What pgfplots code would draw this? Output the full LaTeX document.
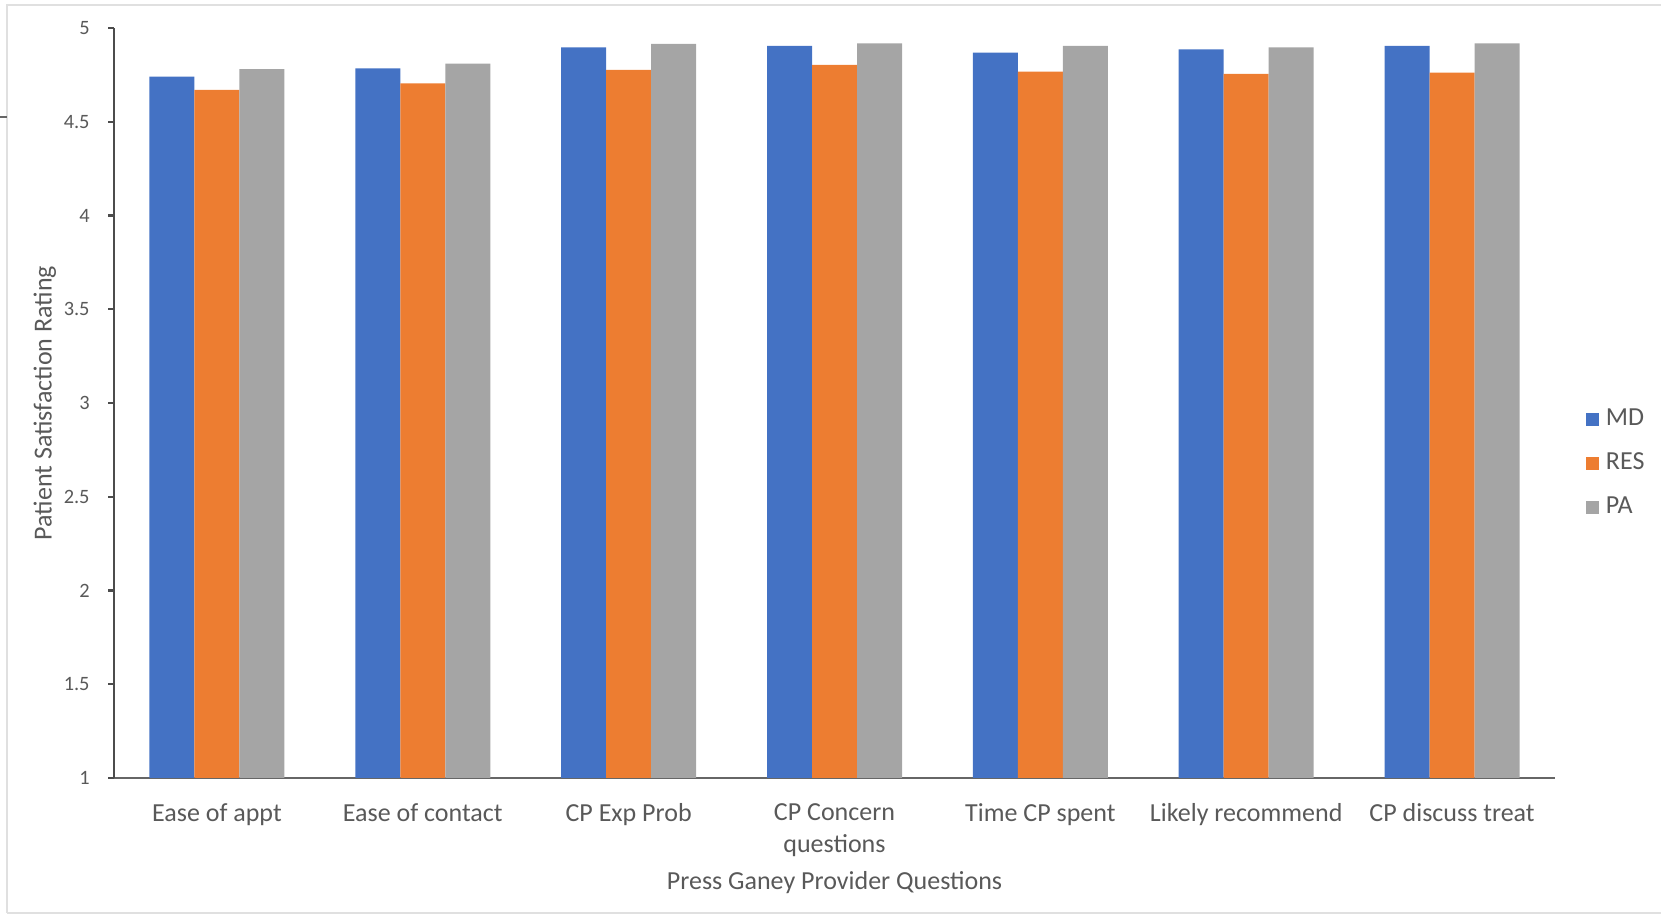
\documentclass[border=0pt]{standalone}
\usepackage{fontspec}
\setmainfont{Carlito}
\usepackage{pgfplots}
\pgfplotsset{compat=1.18}
\definecolor{mdblue}{HTML}{4472C4}
\definecolor{resorange}{HTML}{ED7D31}
\definecolor{pagray}{HTML}{A5A5A5}
\definecolor{txtgray}{HTML}{595959}
\begin{document}
\begin{tikzpicture}
\useasboundingbox (-1.14,-1.38) rectangle (15.47,7.78);
\draw[black!12] (-1.07,-1.35) -- (-1.07,7.73) -- (15.47,7.73);
\draw[black!12] (-1.07,-1.35) -- (15.47,-1.35);
\draw[black!60] (-1.14,6.61) -- (-1.07,6.61);
\begin{axis}[
  scale only axis,
  width=14.41cm, height=7.5cm,
  ybar=0pt, bar width=0.45cm,
  xmin=-0.5, xmax=6.5,
  ymin=1, ymax=5,
  ytick={1,1.5,...,5},
  xtick=data,
  xticklabels={Ease of appt, Ease of contact, CP Exp Prob, {CP Concern\\questions}, Time CP spent, Likely recommend, CP discuss treat},
  axis x line*=bottom, axis y line*=left,
  axis line style={black!70, line width=0.7pt, -},
  x axis line style={black!60},
  xtick style={draw=none},
  ytick style={black!70, line width=0.7pt},
  tick align=outside, major tick length=0.06cm,
  /pgf/number format/assume math mode=true,
  yticklabel style={font=\fontsize{5.8}{7}\selectfont, text=txtgray, xshift=-0.06cm},
  xticklabel style={font=\fontsize{7.4}{9.3}\selectfont, text=txtgray, align=center, yshift=-0.07cm},
  ylabel={Patient Satisfaction Rating},
  xlabel={Press Ganey Provider Questions},
  label style={font=\fontsize{7.4}{9}\selectfont, text=txtgray},
  ylabel style={at={(axis description cs:-0.048,0.5)}, anchor=center},
  xlabel style={at={(axis description cs:0.5,-0.139)}, anchor=center},
  legend style={at={(1.021,0.419)}, anchor=west, draw=none, fill=none,
    font=\fontsize{7.4}{8.5}\selectfont, text=txtgray,
    row sep=0.08cm, inner sep=0pt},
  legend cell align=left,
  legend image code/.code={\fill[#1] (0cm,-0.065cm) rectangle (0.13cm,0.065cm);},
  clip=false,
]
\addplot[fill=mdblue, draw=none] coordinates {(0,4.74) (1,4.785) (2,4.897) (3,4.904) (4,4.868) (5,4.886) (6,4.904)};
\addplot[fill=resorange, draw=none] coordinates {(0,4.67) (1,4.705) (2,4.776) (3,4.803) (4,4.767) (5,4.755) (6,4.762)};
\addplot[fill=pagray, draw=none] coordinates {(0,4.78) (1,4.81) (2,4.915) (3,4.918) (4,4.904) (5,4.897) (6,4.918)};
\legend{MD, RES, PA}
\end{axis}
\end{tikzpicture}
\end{document}
